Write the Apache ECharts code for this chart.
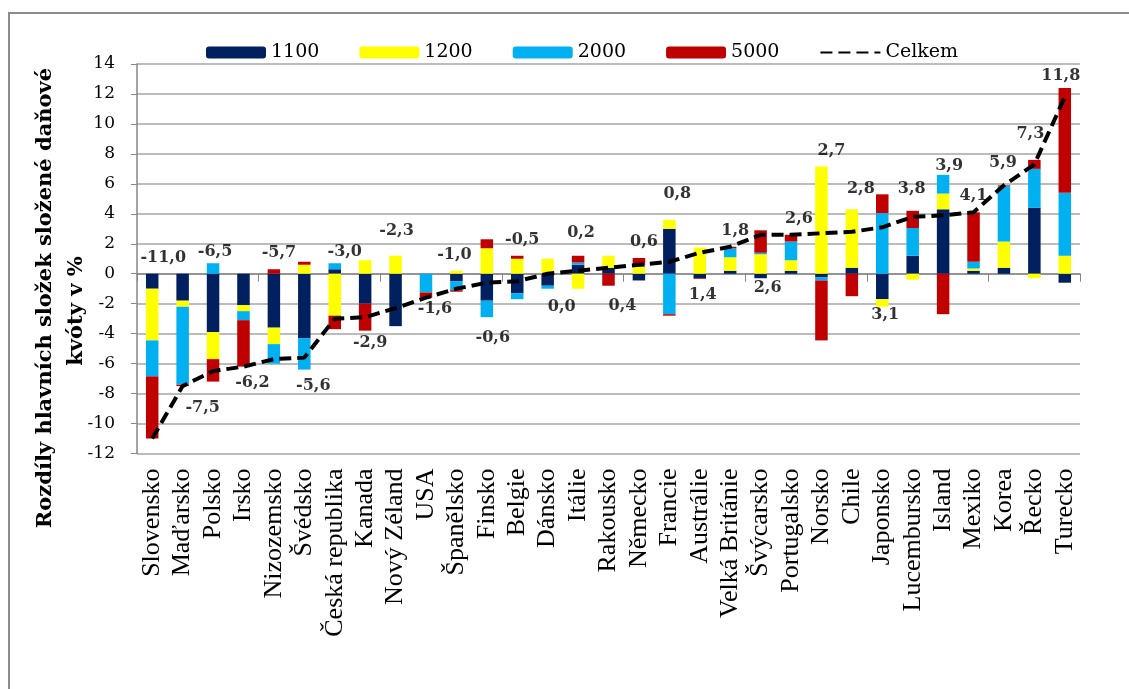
<!DOCTYPE html>
<html>
<head>
<meta charset="utf-8">
<script src="https://cdn.jsdelivr.net/npm/echarts@6/dist/echarts.min.js"></script>
<style>
  html, body { margin: 0; padding: 0; background: #ffffff; }
  #chart { width: 1129px; height: 689px; }
</style>
</head>
<body>
<div id="chart"></div>
<script>
// Countries ordered by the overall difference (Celkem)
const countries = ['Slovensko', 'Maďarsko', 'Polsko', 'Irsko', 'Nizozemsko', 'Švédsko',
  'Česká republika', 'Kanada', 'Nový Zéland', 'USA', 'Španělsko', 'Finsko', 'Belgie',
  'Dánsko', 'Itálie', 'Rakousko', 'Německo', 'Francie', 'Austrálie', 'Velká Británie',
  'Švýcarsko', 'Portugalsko', 'Norsko', 'Chile', 'Japonsko', 'Lucembursko', 'Island',
  'Mexiko', 'Korea', 'Řecko', 'Turecko'];

// Component differences in percentage points
const s1100 = [-1.0, -1.8, -3.9, -2.1, -3.6, -4.3, 0.3, -2.0, -3.5, 0, -0.5, -1.8, -1.3,
  -0.8, 0.6, 0.4, -0.45, 3.0, -0.3, 0.2, -0.3, 0.2, -0.25, 0.4, -1.7, 1.2, 4.3,
  0.2, 0.4, 4.4, -0.6];
const s1200 = [-3.45, -0.4, -1.8, -0.4, -1.1, 0.6, -2.8, 0.9, 1.2, 0, 0.2, 1.7, 1.0,
  1.0, -1.0, 0.8, 0.45, 0.6, 1.75, 0.9, 1.3, 0.7, 7.15, 3.9, -0.5, -0.4, 1.05,
  0.15, 1.75, -0.3, 1.2];
const s2000 = [-2.4, -5.2, 0.7, -0.6, -1.3, -2.1, 0.4, 0, 0, -1.25, -0.6, -1.1, -0.4,
  -0.2, 0.15, 0, 0.1, -2.7, 0, 0.6, 0.1, 1.25, -0.2, 0, 4.05, 1.85, 1.25,
  0.45, 3.7, 2.6, 4.2];
const s5000 = [-4.15, -0.1, -1.5, -3.1, 0.3, 0.2, -0.9, -1.8, 0, -0.35, -0.1, 0.6, 0.2,
  0, 0.45, -0.8, 0.5, -0.1, -0.05, 0.1, 1.5, 0.45, -4.0, -1.5, 1.25, 1.15, -2.7,
  3.3, 0.05, 0.6, 7.0];

// Overall difference
const celkem = [-11.0, -7.5, -6.5, -6.2, -5.7, -5.6, -3.0, -2.9, -2.3, -1.6, -1.0, -0.6, -0.5,
  0.0, 0.2, 0.4, 0.6, 0.8, 1.4, 1.8, 2.6, 2.6, 2.7, 2.8, 3.1, 3.8, 3.9,
  4.1, 5.9, 7.3, 11.8];

// Which end of the stacked bar carries the value label
const labelSide = ['top', 'bottom', 'top', 'bottom', 'top', 'bottom', 'top', 'bottom', 'top',
  'bottom', 'top', 'bottom', 'top', 'bottom', 'top', 'bottom', 'top', 'top', 'bottom', 'top',
  'bottom', 'top', 'top', 'top', 'bottom', 'top', 'top', 'top', 'top', 'top', 'top'];

const yTicks = { min: -12, max: 14, step: 2 };

// ---- layout / styling ----
const components = [
  { name: '1100', data: s1100, color: '#002060' },
  { name: '1200', data: s1200, color: '#FFFF00' },
  { name: '2000', data: s2000, color: '#00B0F0' },
  { name: '5000', data: s5000, color: '#C00000' }
];

// Hand placement of some value labels, in pixels [dx, dy] (dy > 0 moves down)
const labelNudge = {
  'Slovensko': [6, 0], 'Polsko': [-3, 5], 'Česká republika': [5, 5], 'Nový Zéland': [-4, -9],
  'Španělsko': [-7, 0], 'Itálie': [-2, -7], 'Francie': [3, -10], 'Portugalsko': [3, 0],
  'Norsko': [5, 0], 'Chile': [4, -4], 'Lucembursko': [-6, -6], 'Island': [1, 7],
  'Mexiko': [-5, 0], 'Korea': [-6, -7], 'Řecko': [-9, -10], 'Turecko': [-9, 4],
  'Maďarsko': [11, 6], 'Kanada': [-4, -4], 'USA': [0, -5], 'Finsko': [-3, 5],
  'Dánsko': [5, 2], 'Rakousko': [5, 4], 'Švýcarsko': [-2, -6], 'Japonsko': [-6, -8],
  'Austrálie': [-6, 0]
};
const labelBaseDx = { top: 5, bottom: 9 };

const fmt = v => v.toFixed(1).replace('.', ',');

// Ends of each stacked bar (positive and negative parts stack separately)
const posEnd = countries.map((_, i) => components.reduce((a, c) => a + Math.max(0, c.data[i]), 0));
const negEnd = countries.map((_, i) => components.reduce((a, c) => a + Math.min(0, c.data[i]), 0));

const labelPoints = countries.map((name, i) => {
  const side = labelSide[i];
  const n = labelNudge[name] || [0, 0];
  return {
    value: [i, side === 'top' ? posEnd[i] : negEnd[i]],
    label: { position: side, offset: [labelBaseDx[side] + n[0], n[1]] },
    total: celkem[i]
  };
});

const serif = 'DejaVu Serif';
const gridColor = '#a6a6a6';
const axisColor = '#868686';

const chart = echarts.init(document.getElementById('chart'), null, { renderer: 'canvas' });

const barSeries = components.map(c => ({
  name: c.name,
  type: 'bar',
  stack: 'parts',
  xAxisIndex: 0,
  barWidth: 12.5,
  data: c.data,
  itemStyle: { color: c.color },
  emphasis: { disabled: true },
  silent: true
}));

const titleStyle = {
  fontFamily: serif, fontWeight: 'bold', fontSize: 21,
  align: 'center', verticalAlign: 'middle',
  textAlign: 'center', textVerticalAlign: 'middle', fill: '#000000'
};

chart.setOption({
  animation: false,
  backgroundColor: '#ffffff',
  graphic: [
    {
      type: 'rect',
      shape: { x: 9, y: 13, width: 1200, height: 800 },
      style: { fill: 'none', stroke: '#8c8c8c', lineWidth: 2 },
      silent: true, z: -1
    },
    {
      type: 'text', x: 46, y: 298, rotation: Math.PI / 2,
      style: Object.assign({ text: 'Rozdíly hlavních složek složené daňové' }, titleStyle),
      silent: true
    },
    {
      type: 'text', x: 77, y: 311, rotation: Math.PI / 2,
      style: Object.assign({ text: 'kvóty v %' }, titleStyle),
      silent: true
    }
  ],
  legend: {
    data: ['1100', '1200', '2000', '5000',
      { name: 'Celkem', itemStyle: { color: 'rgba(0,0,0,0)', borderWidth: 0, opacity: 0 } }],
    left: 201, top: 38,
    itemWidth: 60, itemHeight: 12, itemGap: 40,
    textStyle: { fontFamily: serif, fontSize: 19, color: '#000000' },
    selectedMode: false
  },
  grid: { left: 137, right: 49, top: 64, bottom: 235.5 },
  xAxis: [
    {
      type: 'category',
      data: countries,
      position: 'bottom',
      axisLine: { show: false, onZero: false },
      axisTick: { show: false },
      axisLabel: {
        interval: 0, rotate: 90, margin: 15,
        fontFamily: 'Liberation Serif', fontSize: 26, color: '#000000'
      },
      splitLine: { show: false }
    },
    {
      type: 'category',
      data: countries,
      position: 'bottom',
      axisLine: { show: true, onZero: true, lineStyle: { color: axisColor, width: 1.5 } },
      axisTick: { show: true, length: 8, lineStyle: { color: axisColor } },
      axisLabel: { show: false },
      splitLine: { show: false }
    }
  ],
  yAxis: {
    type: 'value',
    min: yTicks.min, max: yTicks.max, interval: yTicks.step,
    axisLine: { show: true, lineStyle: { color: axisColor, width: 1.5 } },
    axisTick: { show: true, length: 6, lineStyle: { color: axisColor } },
    axisLabel: { margin: 22, fontFamily: serif, fontSize: 17, color: '#000000' },
    splitLine: { show: true, lineStyle: { color: gridColor, width: 1.5 } }
  },
  series: [
    ...barSeries,
    {
      name: 'Celkem',
      type: 'line',
      xAxisIndex: 0,
      data: celkem,
      symbol: 'none',
      lineStyle: { color: '#000000', width: 4, type: [12, 6] },
      itemStyle: { color: '#000000' },
      emphasis: { disabled: true },
      silent: true,
      z: 5
    },
    {
      name: 'popisky',
      type: 'scatter',
      xAxisIndex: 0,
      data: labelPoints,
      symbolSize: 0,
      itemStyle: { color: 'transparent' },
      label: {
        show: true,
        distance: 8,
        fontFamily: serif, fontWeight: 'bold', fontSize: 16, color: '#000000',
        formatter: p => fmt(p.data.total)
      },
      emphasis: { disabled: true },
      silent: true,
      z: 6
    }
  ]
});
</script>
</body>
</html>
